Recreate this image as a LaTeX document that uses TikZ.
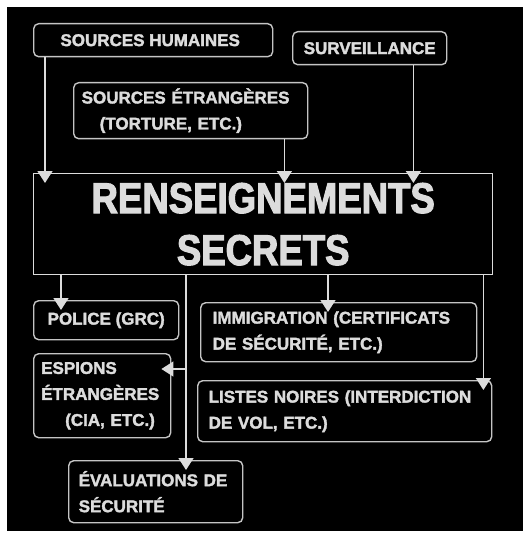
\documentclass[tikz,border=0pt]{standalone}
\usepackage{fontspec}
\setmainfont{Liberation Sans}[BoldFont={Liberation Sans Bold}]
\newfontfamily\boxfont{Liberation Sans Bold}[FakeBold=2]
\newfontfamily\titlefont{Liberation Sans Bold}[FakeStretch=0.85, FakeBold=2.5]
\usetikzlibrary{arrows.meta, positioning}
\definecolor{inkgray}{HTML}{DCDCDC}
\definecolor{framegray}{HTML}{C4C4C4}

\begin{document}
\begin{tikzpicture}[x=1pt, y=-1pt,
      box/.style={draw=framegray, line width=1.4pt, rounded corners=5pt, text=inkgray, anchor=north west, inner sep=0pt, font=\boxfont\fontsize{17}{26}\selectfont},
      leftbox/.style={box, align=left},
      bigbox/.style={draw=inkgray, line width=1.4pt, text=inkgray, anchor=north west, inner sep=0pt, align=center, font=\titlefont\fontsize{43}{52}\selectfont},
      arrow/.style={draw=inkgray, line width=1.4pt, -{Triangle[width=15pt, length=12pt]}, shorten >=-10pt}
    ]
    \useasboundingbox (0,0) rectangle (523,540);
    \fill[white] (0,0) rectangle (523,540);
    \fill[black] (7,7) rectangle (523,531);

    % sources
    \node[box, minimum width=239pt, minimum height=33pt] (humaines) at (33,23) {SOURCES HUMAINES\hspace*{6pt}};
    \node[box, minimum width=154pt, minimum height=33pt] (surveillance) at (292,31) {SURVEILLANCE};
    \node[leftbox, text width=218pt, inner xsep=8pt, minimum height=56pt] (etrangeres) at (73,82) {SOURCES ÉTRANGÈRES\\\hspace*{18pt}(TORTURE, ETC.)};

    \node[bigbox, minimum width=459pt, minimum height=101pt] (secrets) at (33,173) {RENSEIGNEMENTS\\SECRETS};

    % destinataires
    \node[box, minimum width=145pt, minimum height=39pt] (police) at (33,300) {POLICE (GRC)};
    \node[leftbox, text width=252pt, inner xsep=12pt, minimum height=59pt] (immigration) at (200,302) {IMMIGRATION (CERTIFICATS\\DE SÉCURITÉ, ETC.)};
    \node[leftbox, text width=122pt, inner xsep=7.5pt, minimum height=84pt] (espions) at (33,353) {ESPIONS\\ÉTRANGÈRES\\\hspace*{24pt}(CIA, ETC.)};
    \node[leftbox, text width=272pt, inner xsep=11pt, minimum height=61pt] (listes) at (197,380) {LISTES NOIRES (INTERDICTION\\DE VOL, ETC.)};
    \node[leftbox, text width=154pt, inner xsep=10pt, minimum height=62pt] (evaluations) at (68,460) {ÉVALUATIONS DE\\SÉCURITÉ};

    \coordinate (branch) at ([xshift=118pt]evaluations.north west |- 0,369);

    \draw[arrow] ([xshift=12pt]humaines.south west) -- ([xshift=12pt]humaines.south west |- secrets.north);
    \draw[arrow] ([xshift=-24pt]etrangeres.south east) -- ([xshift=-24pt]etrangeres.south east |- secrets.north);
    \draw[arrow] ([xshift=-34pt]surveillance.south east) -- ([xshift=-34pt]surveillance.south east |- secrets.north);

    \draw[arrow] ([xshift=28pt]secrets.south west) -- ([xshift=28pt]police.north west);
    \draw[arrow] ([xshift=128pt]immigration.north west |- secrets.south) -- ([xshift=128pt]immigration.north west);
    \draw[arrow] ([xshift=-9pt]listes.north east |- secrets.south) -- ([xshift=-9pt]listes.north east);
    \draw[inkgray, line width=1.4pt] (secrets.south -| branch) -- (branch);
    \draw[arrow] (branch) -- (evaluations.north -| branch);
    \draw[arrow] (branch) -- (branch -| espions.east);
  \end{tikzpicture}
\end{document}
